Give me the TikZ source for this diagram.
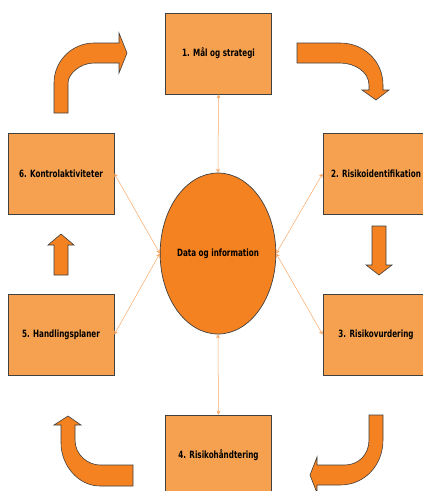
\documentclass[tikz,border=0pt]{standalone}
\usepackage{fontspec}
\setmainfont{DejaVu Sans Condensed}
\usetikzlibrary{shapes.geometric,arrows.meta}
\definecolor{boxfill}{HTML}{F6A150}
\definecolor{darkor}{HTML}{F58220}
\definecolor{edge}{HTML}{404040}
\definecolor{linkc}{HTML}{F9A866}
\newcommand\sqz[1]{\scalebox{0.8}[1]{#1}}
\tikzset{
  stage/.style={draw=edge, line width=0.7pt, fill=boxfill, minimum width=106pt, minimum height=81pt, inner sep=0pt, font=\fontsize{10}{11}\selectfont\bfseries},
  hub/.style={ellipse, draw=edge, line width=0.7pt, fill=darkor, minimum width=104pt, minimum height=161pt, inner sep=0pt, font=\fontsize{10}{11}\selectfont\bfseries},
  blockarrow/.style={draw=edge, line width=0.6pt, fill=darkor, line join=miter},
  link/.style={draw=linkc, line width=0.5pt, {Stealth[length=4pt,width=4pt]}-{Stealth[length=4pt,width=4pt]}}
}
\begin{document}
\begin{tikzpicture}[x=1pt,y=-1pt]
\clip (0,0) rectangle (423,491);
\fill[white] (0,0) rectangle (423,491);
% boxes
\node[stage] (b1) at (218.5,53.5) {\sqz{1. Mål og strategi}};
\node[stage] (b2) at (376,173.5) {\sqz{2. Risikoidentifikation}};
\node[stage] (b3) at (376,334.5) {\sqz{3. Risikovurdering}};
\node[stage] (b4) at (218.5,455.5) {\sqz{4. Risikohåndtering}};
\node[stage] (b5) at (61,334.5) {\sqz{5. Handlingsplaner}};
\node[stage] (b6) at (61,173.5) {\sqz{6. Kontrolaktiviteter}};
\node[hub] (hub) at (218,253.5) {\sqz{Data og information}};
% connectors
\draw[link] (b1.south) -- (hub.north);
\draw[link] (b4.north) -- (hub.south);
\draw[link] (b6.east) -- (hub.west);
\draw[link] (b5.east) -- (hub.west);
\draw[link] (b2.west) -- (hub.east);
\draw[link] (b3.west) -- (hub.east);
% block arrows
\draw[blockarrow] (54,113) -- (54,83) .. controls (54,61) and (72,43) .. (94,43) -- (119,43) -- (119,33) -- (127,53) -- (119,73) -- (119,63) -- (94,63) .. controls (80,63) and (68,74) .. (68,83) -- (68,113) -- cycle;
\draw[blockarrow] (297,43) -- (340,43) .. controls (365,43) and (383,62) .. (383,85) -- (383,90) -- (389,90) -- (376,100) -- (362,90) -- (369,90) -- (369,85) .. controls (369,72) and (355,63) .. (340,63) -- (297,63) -- cycle;
\draw[blockarrow] (372,226) -- (386,226) -- (386,265) -- (392,265) -- (379,275) -- (366,265) -- (372,265) -- cycle;
\draw[blockarrow] (54,275) -- (54,245) -- (48,245) -- (61,234) -- (74,245) -- (68,245) -- (68,275) -- cycle;
\draw[blockarrow] (369,415) -- (383,415) -- (383,440) .. controls (383,465) and (365,485) .. (340,485) -- (317,485) -- (317,493) -- (310,475) -- (317,457) -- (317,465) -- (345,465) .. controls (358,465) and (369,455) .. (369,440) -- cycle;
\draw[blockarrow] (61,425) -- (54,425) -- (68,416) -- (81,425) -- (75,425) -- (75,440) .. controls (75,455) and (88,465) .. (100,465) -- (133,465) -- (133,486) -- (100,486) .. controls (78,486) and (61,465) .. (61,443) -- cycle;
\end{tikzpicture}
\end{document}
